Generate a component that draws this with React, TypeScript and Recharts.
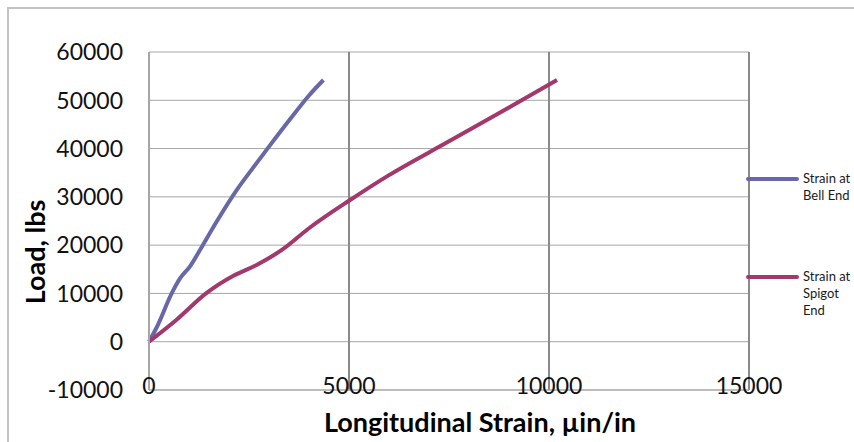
import React from "react";
import {
  LineChart,
  Line,
  XAxis,
  YAxis,
  CartesianGrid,
  Legend,
} from "recharts";

// strain (µin/in) and load (lbs)
const bellStrain = [0, 200, 567, 775, 1025, 1275, 1700, 2200, 2600, 3000, 3500, 4000, 4360];
const bellLoad = [0, 3100, 10000, 13100, 15600, 19000, 25000, 31500, 36000, 40400, 45800, 51000, 54200];
const spigotStrain = [0, 690, 1425, 2110, 2690, 3320, 4000, 5000, 6000, 7500, 9000, 10200];
const spigotLoad = [0, 4550, 10000, 13650, 15900, 19000, 23500, 29200, 34500, 41500, 48500, 54200];

const xTicks = [0, 5000, 10000, 15000];
const yTicks = [-10000, 0, 10000, 20000, 30000, 40000, 50000, 60000];

const bellData = bellStrain.map((s, i) => ({ strain: s, load: bellLoad[i] }));
const spigotData = spigotStrain.map((s, i) => ({ strain: s, load: spigotLoad[i] }));

const FONT = "Lato, 'Open Sans', sans-serif";

const XTick = (props: any) => {
  const { x, y, payload } = props;
  return (
    <text x={x} y={y - 4} dy="0.36em" textAnchor="middle" fontSize={23} fontFamily={FONT} fill="#111">
      {payload.value}
    </text>
  );
};

const YTick = (props: any) => {
  const { x, y, payload } = props;
  return (
    <text x={x} y={y} dy="0.36em" textAnchor="end" fontSize={23} fontFamily={FONT} fill="#111">
      {payload.value}
    </text>
  );
};

const renderLegend = (props: any) => {
  const items = props.payload || [];
  return (
    <div style={{ fontFamily: FONT, fontSize: 13, color: "#1a1a1a" }}>
      {items.map((it: any, i: number) => (
        <div key={i} style={{ display: "flex", alignItems: "flex-start", height: 98 }}>
          <div
            style={{
              width: 53,
              height: 4,
              marginTop: 6.5,
              background: it.color,
              borderRadius: 2,
              flexShrink: 0,
            }}
          />
          <div style={{ marginLeft: 4, width: 54, lineHeight: "17px" }}>{it.value}</div>
        </div>
      ))}
    </div>
  );
};

export default function App() {
  return (
    <div style={{ position: "absolute", left: 0, top: 0, width: 854, height: 442, background: "#fff", overflow: "hidden" }}>
      <div
        style={{
          position: "absolute",
          left: 7,
          top: 7,
          width: 900,
          height: 500,
          border: "2px solid #c4c4c4",
        }}
      />
      <LineChart
        width={854}
        height={442}
        margin={{ top: 52, right: 105, bottom: 0, left: 0 }}
        style={{ position: "absolute", left: 0, top: 0 }}
      >
        <CartesianGrid vertical={false} stroke="#a6a6a6" strokeWidth={1} />
        <CartesianGrid horizontal={false} stroke="#8a8a8a" strokeWidth={2} />
        <XAxis
          type="number"
          dataKey="strain"
          domain={[0, 15000]}
          ticks={xTicks}
          height={52}
          tickLine={false}
          tickSize={0}
          tickMargin={0}
          axisLine={{ stroke: "#a6a6a6", strokeWidth: 1 }}
          tick={<XTick />}
          interval={0}
          label={{
            content: (p: any) => {
              const vb = p.viewBox;
              return (
                <text
                  x={vb.x + vb.width / 2 + 31}
                  y={vb.y + 42}
                  textAnchor="middle"
                  fontFamily={FONT}
                  fontWeight={700}
                  fontSize={27}
                  fill="#000"
                >
                  Longitudinal Strain, µin/in
                </text>
              );
            },
          }}
        />
        <YAxis
          type="number"
          dataKey="load"
          domain={[-10000, 60000]}
          ticks={yTicks}
          width={149}
          tickLine={false}
          tickSize={0}
          tickMargin={26}
          axisLine={{ stroke: "#a6a6a6", strokeWidth: 2 }}
          tick={<YTick />}
          interval={0}
          label={{
            content: (p: any) => {
              const vb = p.viewBox;
              const cx = vb.x + 34;
              const cy = vb.y + vb.height / 2 + 31;
              return (
                <text
                  x={cx}
                  y={cy}
                  textAnchor="middle"
                  dominantBaseline="central"
                  transform={`rotate(-90, ${cx}, ${cy})`}
                  fontFamily={FONT}
                  fontWeight={700}
                  fontSize={27}
                  fill="#000"
                >
                  Load, lbs
                </text>
              );
            },
          }}
        />
        <Legend
          layout="horizontal"
          align="center"
          verticalAlign="middle"
          content={renderLegend}
          wrapperStyle={{ left: 746, top: 170, width: 108 }}
        />
        <Line
          data={bellData}
          dataKey="load"
          name="Strain at Bell End"
          type="monotone"
          stroke="#6868a6"
          strokeWidth={4}
          dot={false}
          isAnimationActive={false}
        />
        <Line
          data={spigotData}
          dataKey="load"
          name="Strain at Spigot End"
          type="monotone"
          stroke="#a2386b"
          strokeWidth={4}
          dot={false}
          isAnimationActive={false}
        />
      </LineChart>
    </div>
  );
}
